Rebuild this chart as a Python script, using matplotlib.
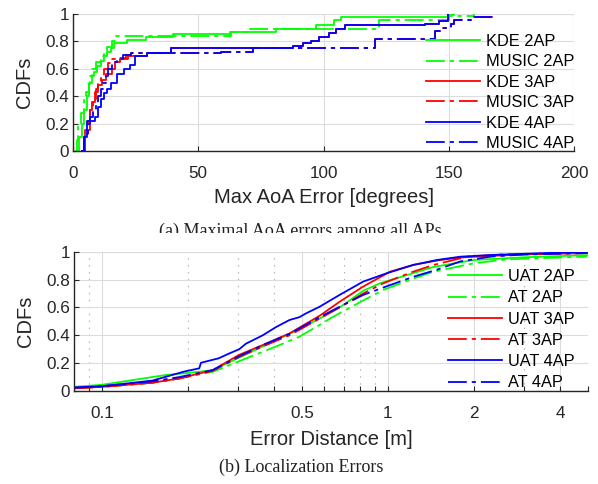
import matplotlib
matplotlib.use("Agg")
import matplotlib.pyplot as plt
from matplotlib.patches import Rectangle
from matplotlib.ticker import FixedLocator, NullFormatter

plt.rcParams['font.family'] = ['Liberation Sans', 'DejaVu Sans']
plt.rcParams['lines.scale_dashes'] = False

# ---------------- Top chart: Max AoA error CDFs (step functions) ----------------
kde2_x = [1.5, 2.5, 3.7, 4.5, 5.7, 6.5, 7.7, 8.5, 9.7, 11.0, 12.5, 13.7, 15.0, 16.4, 21.6, 29.0, 40.0, 62.6, 81.0, 97.0, 104.0, 107.0, 150.0, 152.0]
kde2_y = [0.0, 0.10, 0.20, 0.30, 0.40, 0.50, 0.55, 0.58, 0.62, 0.66, 0.69, 0.72, 0.75, 0.786, 0.81, 0.83, 0.854, 0.87, 0.888, 0.92, 0.956, 0.98, 0.99, 1.0]

music2_x = [0.9, 1.5, 2.2, 3.2, 4.3, 5.3, 6.3, 7.0, 7.7, 9.0, 11.0, 12.5, 13.7, 15.5, 17.0, 63.0, 70.7, 122.0, 150.0, 160.0]
music2_y = [0.0, 0.08, 0.19, 0.28, 0.37, 0.43, 0.49, 0.55, 0.60, 0.65, 0.69, 0.73, 0.76, 0.80, 0.839, 0.87, 0.893, 0.96, 0.985, 1.0]

kde3_x = [3.5, 5.0, 6.9, 7.6, 8.8, 10.0, 11.5, 13.0, 15.4, 16.8, 18.8, 22.0, 24.8, 29.5, 39.3, 88.0, 92.0, 95.0, 98.0, 102.0, 105.0, 108.7, 140.5, 146.0, 149.7]
kde3_y = [0.0, 0.15, 0.30, 0.36, 0.43, 0.48, 0.52, 0.56, 0.60, 0.65, 0.67, 0.69, 0.69, 0.712, 0.749, 0.77, 0.786, 0.80, 0.83, 0.86, 0.89, 0.92, 0.93, 0.95, 1.0]

music3_x = [3.3, 5.0, 6.0, 7.0, 8.0, 9.0, 10.0, 11.0, 12.5, 14.0, 15.0, 17.0, 21.0, 23.0, 59.0, 72.0, 120.6, 144.4, 147.0, 151.0, 152.0, 160.0, 168.0]
music3_y = [0.0, 0.12, 0.22, 0.30, 0.38, 0.45, 0.50, 0.55, 0.60, 0.64, 0.67, 0.68, 0.70, 0.712, 0.724, 0.749, 0.82, 0.873, 0.90, 0.93, 0.96, 0.98, 1.0]

kde4_x = [3.6, 4.5, 5.7, 8.9, 9.8, 11.0, 12.5, 13.7, 15.0, 17.5, 20.2, 22.8, 24.8, 29.5, 39.3, 88.0, 92.0, 95.0, 98.0, 102.0, 105.0, 108.7, 140.5, 146.0, 149.7]
kde4_y = [0.0, 0.10, 0.22, 0.25, 0.32, 0.38, 0.42, 0.45, 0.50, 0.56, 0.60, 0.63, 0.69, 0.712, 0.749, 0.77, 0.786, 0.80, 0.83, 0.86, 0.89, 0.92, 0.93, 0.95, 1.0]

music4_x = [3.3, 4.5, 6.0, 7.0, 8.0, 9.0, 10.0, 11.0, 12.0, 13.0, 14.0, 15.5, 17.5, 20.0, 23.0, 59.0, 72.0, 120.6, 144.4, 147.0, 151.0, 152.0, 160.0, 168.0]
music4_y = [0.0, 0.10, 0.20, 0.25, 0.30, 0.35, 0.40, 0.45, 0.50, 0.55, 0.60, 0.65, 0.67, 0.70, 0.712, 0.724, 0.749, 0.82, 0.873, 0.90, 0.93, 0.96, 0.98, 1.0]

top_labels = ['KDE 2AP', 'MUSIC 2AP', 'KDE 3AP', 'MUSIC 3AP', 'KDE 4AP', 'MUSIC 4AP']
top_xticks = [0, 50, 100, 150, 200]

# ---------------- Bottom chart: localization error CDFs ----------------
uat2_x = [0.08, 0.10, 0.167, 0.20, 0.244, 0.302, 0.365, 0.453, 0.577, 0.678, 0.82, 0.937, 1.2, 1.44, 1.99, 3.0, 4.98]
uat2_y = [0.03, 0.045, 0.115, 0.13, 0.15, 0.24, 0.32, 0.41, 0.52, 0.60, 0.72, 0.773, 0.84, 0.89, 0.94, 0.96, 0.975]

at2_x = [0.08, 0.10, 0.15, 0.186, 0.244, 0.319, 0.418, 0.49, 0.577, 0.643, 0.82, 0.963, 1.2, 1.44, 1.99, 2.6, 4.98]
at2_y = [0.02, 0.03, 0.06, 0.09, 0.138, 0.234, 0.33, 0.39, 0.474, 0.533, 0.65, 0.725, 0.80, 0.856, 0.916, 0.945, 0.965]

uat3_x = [0.08, 0.10, 0.15, 0.186, 0.244, 0.302, 0.365, 0.453, 0.577, 0.678, 0.82, 1.016, 1.227, 1.52, 1.79, 2.3, 3.0, 4.98]
uat3_y = [0.02, 0.03, 0.06, 0.09, 0.15, 0.26, 0.33, 0.414, 0.54, 0.641, 0.75, 0.856, 0.905, 0.94, 0.958, 0.97, 0.98, 0.99]

at3_x = [0.08, 0.10, 0.15, 0.186, 0.244, 0.302, 0.365, 0.453, 0.577, 0.678, 0.82, 0.963, 1.2, 1.44, 1.89, 2.5, 4.98]
at3_y = [0.02, 0.03, 0.06, 0.09, 0.145, 0.245, 0.32, 0.40, 0.52, 0.60, 0.70, 0.773, 0.85, 0.904, 0.964, 0.98, 0.99]

uat4_x = [0.08, 0.10, 0.15, 0.194, 0.219, 0.222, 0.256, 0.279, 0.302, 0.319, 0.365, 0.407, 0.453, 0.49, 0.518, 0.577, 0.678, 0.819, 0.99, 1.227, 1.48, 1.79, 2.28, 3.0, 4.98]
uat4_y = [0.025, 0.035, 0.075, 0.14, 0.163, 0.203, 0.235, 0.27, 0.30, 0.34, 0.40, 0.46, 0.51, 0.53, 0.558, 0.605, 0.69, 0.785, 0.845, 0.905, 0.94, 0.964, 0.976, 0.985, 1.0]

at4_x = [0.08, 0.10, 0.15, 0.186, 0.244, 0.302, 0.365, 0.453, 0.577, 0.678, 0.82, 1.016, 1.227, 1.48, 1.79, 2.3, 3.0, 4.98]
at4_y = [0.025, 0.035, 0.07, 0.10, 0.15, 0.25, 0.33, 0.41, 0.53, 0.605, 0.69, 0.76, 0.82, 0.87, 0.93, 0.965, 0.98, 0.99]

bot_labels = ['UAT 2AP', 'AT 2AP', 'UAT 3AP', 'AT 3AP', 'UAT 4AP', 'AT 4AP']
bot_xticks = [0.1, 0.5, 1, 2, 4]
bot_xticklabels = ['0.1', '0.5', '1', '2', '4']
bot_minor = [0.09, 0.2, 0.3, 0.4, 0.6, 0.7, 0.8, 0.9, 3, 5]

yticks = [0, 0.2, 0.4, 0.6, 0.8, 1]
yticklabels = ['0', '0.2', '0.4', '0.6', '0.8', '1']

GREEN, RED, BLUE = '#00ff00', '#ff0000', '#0000ff'
DASHDOT = (0, (13.5, 3.6, 3.0, 3.6))
LW = 1.3
AXC = '#262626'
GRIDC = '#dcdcdc'
TICKFS = 12.3
LABELFS = 14.5
LEGFS = 11.8
CAPFS = 13
SERIF = ['Liberation Serif', 'DejaVu Serif']

fig = plt.figure(figsize=(5.98, 4.84), dpi=100)

def style_axes(ax):
    for s in ['top', 'right']:
        ax.spines[s].set_visible(False)
    for s in ['left', 'bottom']:
        ax.spines[s].set_color(AXC)
        ax.spines[s].set_linewidth(1.0)
    ax.tick_params(which='both', direction='in', colors=AXC, labelsize=TICKFS,
                   length=3.5, width=0.8)
    ax.tick_params(axis='x', which='both', pad=11)
    ax.tick_params(axis='y', which='both', pad=3)
    ax.set_yticks(yticks)
    ax.set_yticklabels(yticklabels)
    ax.set_ylim(0, 1)
    ax.set_ylabel('CDFs', fontsize=LABELFS, color=AXC, labelpad=8)

# Top axes
ax1 = fig.add_axes([0.122, 0.688, 0.838, 0.283])
style_axes(ax1)
ax1.grid(True, color=GRIDC, lw=0.8)
ax1.set_axisbelow(True)
ax1.axhline(1, color=GRIDC, lw=0.8, zorder=0.5)
ax1.axvline(200, color=GRIDC, lw=0.8, zorder=0.5)
series_top = [(kde2_x, kde2_y, GREEN, '-'), (music2_x, music2_y, GREEN, DASHDOT),
              (kde3_x, kde3_y, RED, '-'), (music3_x, music3_y, RED, DASHDOT),
              (kde4_x, kde4_y, BLUE, '-'), (music4_x, music4_y, BLUE, DASHDOT)]
for (xs, ys, c, ls), lab in zip(series_top, top_labels):
    ax1.plot(xs, ys, drawstyle='steps-post', color=c, ls=ls, lw=LW, label=lab)
ax1.set_xlim(0, 200)
ax1.set_xticks(top_xticks)
ax1.set_xlabel('Max AoA Error [degrees]', fontsize=LABELFS, color=AXC, labelpad=4.5)
ax1.legend(loc='upper left', bbox_to_anchor=(0.705, 0.855), frameon=False,
           fontsize=LEGFS, handlelength=3.3, handletextpad=0.35, labelspacing=0.33,
           borderpad=0, borderaxespad=0)

# Bottom axes
ax2 = fig.add_axes([0.124, 0.192, 0.859, 0.288])
style_axes(ax2)
series_bot = [(uat2_x, uat2_y, GREEN, '-'), (at2_x, at2_y, GREEN, DASHDOT),
              (uat3_x, uat3_y, RED, '-'), (at3_x, at3_y, RED, DASHDOT),
              (uat4_x, uat4_y, BLUE, '-'), (at4_x, at4_y, BLUE, DASHDOT)]
for (xs, ys, c, ls), lab in zip(series_bot, bot_labels):
    ax2.plot(xs, ys, color=c, ls=ls, lw=LW, label=lab)
ax2.set_xscale('log')
ax2.set_xlim(0.08, 5.0)
ax2.xaxis.set_major_locator(FixedLocator(bot_xticks))
ax2.set_xticklabels(bot_xticklabels)
ax2.xaxis.set_minor_locator(FixedLocator(bot_minor))
ax2.xaxis.set_minor_formatter(NullFormatter())
ax2.grid(True, which='major', color=GRIDC, lw=0.8)
ax2.grid(True, which='minor', axis='x', color='#b0b0b0', lw=0.8, ls=(0, (1, 4)))
ax2.set_axisbelow(True)
ax2.axhline(1, color=GRIDC, lw=0.8, zorder=0.5)
ax2.set_xlabel('Error Distance [m]', fontsize=LABELFS, color=AXC, labelpad=6.5)
ax2.legend(loc='upper left', bbox_to_anchor=(0.728, 0.875), frameon=False,
           fontsize=LEGFS, handlelength=3.3, handletextpad=0.35, labelspacing=0.38,
           borderpad=0, borderaxespad=0)

# Captions
fig.text(0.503, 1 - 236 / 484, '(a) Maximal AoA errors among all APs', ha='center',
         va='baseline', fontsize=CAPFS, family=SERIF, color='#222222')
fig.add_artist(Rectangle((130 / 598, 1 - 247 / 484), 340 / 598, 14 / 484,
                         transform=fig.transFigure, facecolor='white',
                         edgecolor='none', zorder=10))
fig.text(0.503, 1 - 472 / 484, '(b) Localization Errors', ha='center',
         va='baseline', fontsize=CAPFS, family=SERIF, color='#222222')

fig.savefig('out.png', dpi=100)
